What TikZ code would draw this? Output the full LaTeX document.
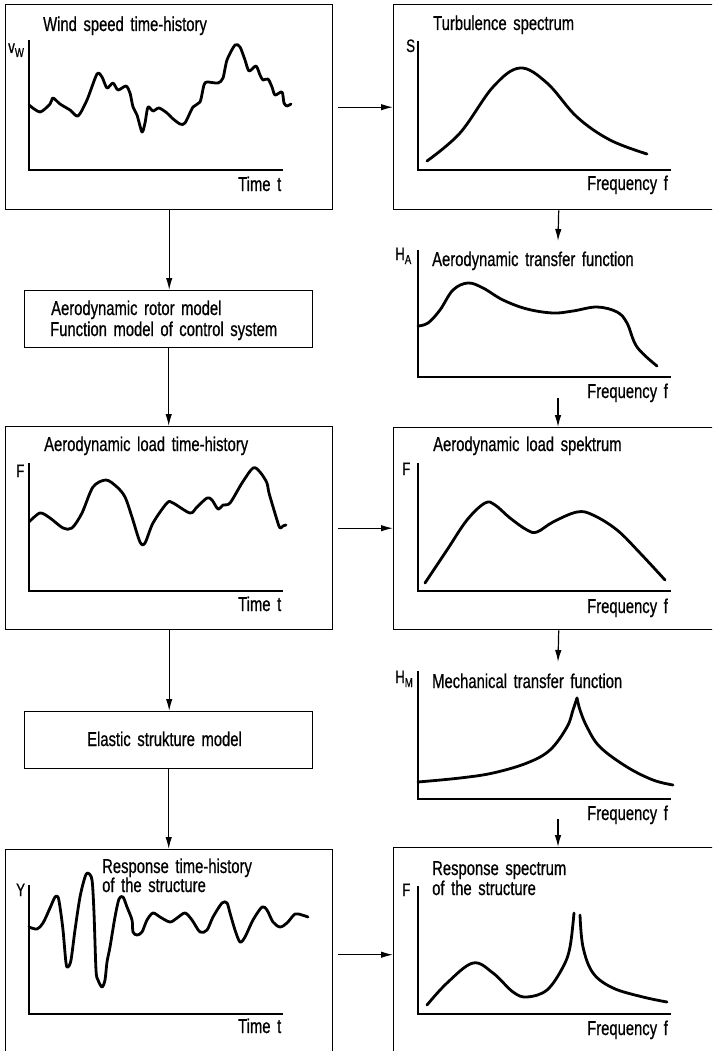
\documentclass[tikz,border=0pt]{standalone}
\usepackage{fontspec}
\setmainfont{Liberation Sans}[FakeStretch=0.74,WordSpace=1.6,FakeBold=0.7]
\usetikzlibrary{arrows.meta}
\begin{document}
\begin{tikzpicture}[x=1pt,y=-1pt,
  box/.style={draw, line width=1.4pt, inner sep=0pt, anchor=north west},
  lab/.style={anchor=base west, inner sep=0pt, font=\fontsize{20}{23}\selectfont},
  axl/.style={anchor=base west, inner sep=0pt, font=\fontsize{18}{20}\selectfont},
  axis/.style={line width=1.3pt},
  curve/.style={line width=2.8pt, line join=round, line cap=round},
  arr/.style={line width=1.2pt, -{Latex[length=12pt,width=6.5pt]}}]
\useasboundingbox (0,0) rectangle (712,1051);
\clip (0,0) rectangle (712,1051);

% boxes
\node[box, minimum width=327pt, minimum height=205pt] (b1) at (5,4) {};
\node[box, minimum width=288pt, minimum height=57pt] (rot) at (24,290) {};
\node[box, minimum width=327pt, minimum height=203pt] (b3) at (5,426) {};
\node[box, minimum width=288pt, minimum height=57pt] (el) at (24,711) {};
\node[box, minimum width=327pt, minimum height=210pt] (b5) at (5,849) {};
\node[box, minimum width=330pt, minimum height=205pt] (b2) at (393,4) {};
\node[box, minimum width=330pt, minimum height=202pt] (b4) at (393,427) {};
\node[box, minimum width=330pt, minimum height=210pt] (b6) at (393,847) {};

% connectors left column
\draw[arr] (b1.south) -- (b1.south |- rot.north);
\draw[arr] (rot.south) -- (rot.south |- b3.north);
\draw[arr] (b3.south) -- (b3.south |- el.north);
\draw[arr] (el.south) -- (el.south |- b5.north);
% horizontal
\draw[arr, shorten <=5pt] (b1.east) -- (b1.east -| b2.west);
\draw[arr, shorten <=5pt] (b3.east) -- (b3.east -| b4.west);
\draw[arr, shorten <=5pt] (b5.east) -- (b5.east -| b6.west);
% right column
\coordinate (ha) at (558,241);
\coordinate (haf) at (558,398);
\coordinate (hm) at (558,662);
\coordinate (hmf) at (558,819);
\draw[arr] (b2.south) -- (ha);
\draw[arr] (haf) -- (haf |- b4.north);
\draw[arr] (b4.south) -- (hm);
\draw[arr] (hmf) -- (hmf |- b6.north);

% box texts
\node[lab] (t1) at (51,315) {Aerodynamic rotor model};
\node[lab] (t2) at (50,336) {Function model of control system};
\node[lab] (t3) at (87,746) {Elastic strukture model};

% panel 1: wind speed
\node[lab] (p1t) at (43,31) {Wind speed time-history};
\node[axl] (p1y) at (8,53) {v\raisebox{-4pt}{\fontsize{13}{13}\selectfont W}};
\node[lab] (p1x) at (238,191) {Time t};
\draw[axis] (29,40) -- (29,170) -- (283,170);
\draw[curve] plot[smooth, tension=0.45] coordinates {(29,105) (40,112) (50,104) (53,98) (60,104) (70,110) (78,116) (87,100) (97,74) (102,77) (107,88) (113,83) (118,90) (126,86) (130,93) (133,107) (137,115) (142,132) (145,123) (148,107) (153,111) (159,108) (167,113) (172,118) (180,124) (185,123) (193,107) (200,102) (204,85) (207,82) (218,83) (223,78) (227,60) (235,45) (240,47) (245,60) (249,71) (256,66) (260,75) (263,80) (268,79) (272,87) (275,95) (282,92) (284,103) (287,106) (291,104)};

% panel 2: turbulence spectrum
\node[lab] (p2t) at (433,30) {Turbulence spectrum};
\node[axl] (p2y) at (406,52) {S};
\node[lab] (p2x) at (587,190) {Frequency f};
\draw[axis] (418,41) -- (418,170) -- (671,170);
\draw[curve] plot[smooth, tension=0.6] coordinates {(427,161) (460,133) (493,87) (520,68) (547,83) (577,117) (610,140) (647,154)};

% aerodynamic transfer function
\node[lab] (pat) at (432,266) {Aerodynamic transfer function};
\node[axl] (pay) at (395,260) {H\raisebox{-4pt}{\fontsize{13}{13}\selectfont A}};
\node[lab] (pax) at (587,398) {Frequency f};
\draw[axis] (418,250) -- (418,377) -- (671,377);
\draw[curve] plot[smooth, tension=0.6] coordinates {(418,326) (428,323) (440,310) (453,290) (468,283) (483,288) (503,300) (527,309) (553,313) (573,311) (597,307) (617,312) (627,323) (637,347) (657,366)};

% panel 3: aerodynamic load time-history
\node[lab] (p3t) at (44,451) {Aerodynamic load time-history};
\node[axl] (p3y) at (16,477) {F};
\node[lab] (p3x) at (238,611) {Time t};
\draw[axis] (29,463) -- (29,591) -- (283,591);
\draw[curve] plot[smooth, tension=0.5] coordinates {(29,522) (40,513) (50,518) (63,528) (72,528) (82,513) (93,487) (106,480) (117,487) (125,497) (132,517) (140,542) (145,543) (153,523) (167,503) (173,503) (190,513) (197,507) (207,498) (212,500) (218,509) (223,505) (230,503) (242,483) (253,468) (260,472) (267,483) (269,493) (277,520) (280,528) (283,526) (286,525)};

% panel 4: aerodynamic load spectrum
\node[lab] (p4t) at (433,451) {Aerodynamic load spektrum};
\node[axl] (p4y) at (402,475) {F};
\node[lab] (p4x) at (587,613) {Frequency f};
\draw[axis] (418,463) -- (418,591) -- (671,591);
\draw[curve] plot[smooth, tension=0.6] coordinates {(425,583) (447,550) (467,520) (485,503) (495,505) (510,518) (527,530) (537,532) (553,522) (577,512) (593,515) (617,530) (640,553) (665,580)};

% mechanical transfer function
\node[lab] (pmt) at (432,688) {Mechanical transfer function};
\node[axl] (pmy) at (395,683) {H\raisebox{-4pt}{\fontsize{13}{13}\selectfont M}};
\node[lab] (pmx) at (587,820) {Frequency f};
\draw[axis] (418,671) -- (418,799) -- (671,799);
\draw[curve] plot[smooth, tension=0.6] coordinates {(418,782) (460,778) (493,773) (527,763) (550,750) (567,727) (573,710) (577,698)};
\draw[curve] plot[smooth, tension=0.6] coordinates {(577,698) (580,710) (587,727) (600,747) (627,767) (653,780) (673,785)};

% panel 5: response time-history
\node[lab] (p5t1) at (102,873) {Response time-history};
\node[lab] (p5t2) at (102,892) {of the structure};
\node[axl] (p5y) at (16,896) {Y};
\node[lab] (p5x) at (238,1033) {Time t};
\draw[axis] (29,885) -- (29,1014) -- (283,1014);
\draw[curve] plot[smooth, tension=0.5] coordinates {(29,927) (37,929) (43,923) (50,908) (55,897) (58,897) (60,907) (63,930) (66,963) (68,967) (71,960) (75,930) (80,897) (85,877) (88,873) (92,880) (94,913) (96,970) (98,980) (102,987) (105,980) (107,962) (110,947) (115,917) (119,899) (123,897) (127,907) (132,920) (133,932) (137,935) (142,932) (147,920) (153,913) (160,917) (170,922) (177,918) (185,913) (192,920) (200,932) (207,930) (213,917) (222,903) (227,903) (230,913) (235,930) (240,942) (245,937) (253,920) (262,907) (267,910) (273,922) (280,927) (287,923) (295,914) (302,915) (308,917)};

% panel 6: response spectrum
\node[lab] (p6t1) at (432,875) {Response spectrum};
\node[lab] (p6t2) at (432,895) {of the structure};
\node[axl] (p6y) at (402,896) {F};
\node[lab] (p6x) at (587,1035) {Frequency f};
\draw[axis] (418,886) -- (418,1014) -- (671,1014);
\draw[curve] plot[smooth, tension=0.6] coordinates {(427,1005) (447,983) (473,963) (493,973) (513,992) (527,997) (547,990) (563,967) (570,947) (574,913)};
\draw[curve] plot[smooth, tension=0.6] coordinates {(580,915) (583,947) (593,973) (613,988) (643,997) (667,1002)};
\end{tikzpicture}
\end{document}
